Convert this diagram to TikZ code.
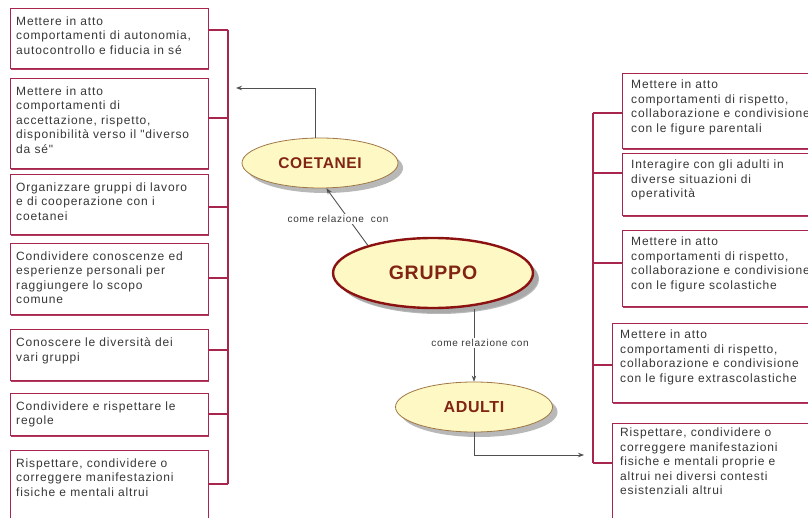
\documentclass[tikz,border=0pt]{standalone}
\usepackage{fontspec}
\setmainfont{Liberation Sans}
\newfontfamily\panelfont[LetterSpace=7]{Liberation Sans}
\newfontfamily\ovalfont[LetterSpace=4]{Liberation Sans}
\usetikzlibrary{shapes.geometric,shadows,arrows.meta}

\definecolor{boxred}{RGB}{168,38,78}
\definecolor{txtgray}{RGB}{55,55,55}
\definecolor{ovalfill}{RGB}{253,248,196}
\definecolor{ovaledge}{RGB}{160,120,70}
\definecolor{ovaltext}{RGB}{130,36,20}
\definecolor{gruppoedge}{RGB}{140,18,18}
\definecolor{conncol}{RGB}{80,80,80}

\tikzset{
  panel/.style={draw=boxred, line width=1.1pt, fill=white, anchor=north west,
    inner sep=0pt, minimum width=198pt,
    drop shadow={shadow xshift=0.5pt, shadow yshift=-1.3pt, fill=boxred, opacity=0.9}},
  rpanel/.style={panel, minimum width=220pt},
  paneltext/.style={anchor=north west, inner sep=0pt, align=left, text=txtgray,
    font=\panelfont\fontsize{12}{14.5}\selectfont},
  oval/.style={ellipse, draw=ovaledge, line width=0.8pt, fill=ovalfill, inner sep=0pt,
    text=ovaltext,
    drop shadow={shadow xshift=5pt, shadow yshift=-5pt, fill=black!35, opacity=0.8}},
  bus/.style={draw=boxred, line width=1.8pt},
  conn/.style={draw=conncol, line width=0.9pt},
  arr/.style={conn, -{Stealth[length=6pt,width=4.5pt]}},
  rel/.style={fill=white, inner sep=1.5pt, text=txtgray, font=\panelfont\fontsize{10}{11}\selectfont}
}

\begin{document}
\begin{tikzpicture}[x=1pt, y=-1pt]
\useasboundingbox (0,0) rectangle (808,518);

% left column of panels
\node[panel, minimum height=60pt] (L1) at (10,8) {};
\node[panel, minimum height=90pt] (L2) at (10,78) {};
\node[panel, minimum height=60pt] (L3) at (10,174) {};
\node[panel, minimum height=71pt] (L4) at (10,243) {};
\node[panel, minimum height=51pt] (L5) at (10,329) {};
\node[panel, minimum height=42pt] (L6) at (10,393) {};
\node[panel, minimum height=90pt] (L7) at (10,450) {};

\node[paneltext] (tL1) at ([xshift=6pt,yshift=-8.5pt]L1.north west)
  {Mettere in atto\\comportamenti di autonomia,\\autocontrollo e fiducia in sé};
\node[paneltext] (tL2) at ([xshift=6pt,yshift=-8.5pt]L2.north west)
  {Mettere in atto\\comportamenti di\\accettazione, rispetto,\\disponibilità verso il "diverso\\da sé"};
\node[paneltext] (tL3) at ([xshift=6pt,yshift=-8.5pt]L3.north west)
  {Organizzare gruppi di lavoro\\e di cooperazione con i\\coetanei};
\node[paneltext] (tL4) at ([xshift=6pt,yshift=-8.5pt]L4.north west)
  {Condividere conoscenze ed\\esperienze personali per\\raggiungere lo scopo\\comune};
\node[paneltext] (tL5) at ([xshift=6pt,yshift=-8.5pt]L5.north west)
  {Conoscere le diversità dei\\vari gruppi};
\node[paneltext] (tL6) at ([xshift=6pt,yshift=-8.5pt]L6.north west)
  {Condividere e rispettare le\\regole};
\node[paneltext] (tL7) at ([xshift=6pt,yshift=-8.5pt]L7.north west)
  {Rispettare, condividere o\\correggere manifestazioni\\fisiche e mentali altrui};

% right column of panels
\node[rpanel, minimum height=75pt] (R1) at (622,73) {};
\node[rpanel, minimum height=62pt] (R2) at (622,153) {};
\node[rpanel, minimum height=76pt] (R3) at (622,230) {};
\node[rpanel, minimum height=79pt, minimum width=230pt] (R4) at (612,323) {};
\node[rpanel, minimum height=110pt, minimum width=230pt] (R5) at (612,423) {};

\node[paneltext] (tR1) at ([xshift=9pt,yshift=-7pt]R1.north west)
  {Mettere in atto\\comportamenti di rispetto,\\collaborazione e condivisione\\con le figure parentali};
\node[paneltext] (tR2) at ([xshift=9pt,yshift=-7pt]R2.north west)
  {Interagire con gli adulti in\\diverse situazioni di\\operatività};
\node[paneltext] (tR3) at ([xshift=9pt,yshift=-7pt]R3.north west)
  {Mettere in atto\\comportamenti di rispetto,\\collaborazione e condivisione\\con le figure scolastiche};
\node[paneltext] (tR4) at ([xshift=8pt,yshift=-7pt]R4.north west)
  {Mettere in atto\\comportamenti di rispetto,\\collaborazione e condivisione\\con le figure extrascolastiche};
\node[paneltext] (tR5) at ([xshift=8pt,yshift=-5pt]R5.north west)
  {Rispettare, condividere o\\correggere manifestazioni\\fisiche e mentali proprie e\\altrui nei diversi contesti\\esistenziali altrui};

% left bracket bus
\coordinate (lbtop) at (228,30);
\coordinate (lbbot) at (228,484);
\draw[bus] (lbtop) -- (lbbot);
\draw[bus] (L1.east |- 0,30) -- (228,30);
\draw[bus] (L2.east |- 0,118) -- (228,118);
\draw[bus] (L3.east |- 0,207) -- (228,207);
\draw[bus] (L4.east |- 0,278) -- (228,278);
\draw[bus] (L5.east |- 0,350) -- (228,350);
\draw[bus] (L6.east |- 0,414) -- (228,414);
\draw[bus] (L7.east |- 0,484) -- (228,484);

% right bracket bus
\coordinate (rbtop) at (593,113);
\coordinate (rbbot) at (593,463);
\draw[bus] (rbtop) -- (rbbot);
\draw[bus] (593,113) -- (R1.west |- 0,113);
\draw[bus] (593,173) -- (R2.west |- 0,173);
\draw[bus] (593,263) -- (R3.west |- 0,263);
\draw[bus] (593,365) -- (R4.west |- 0,365);
\draw[bus] (593,463) -- (R5.west |- 0,463);

% concept ovals
\node[oval, minimum width=156pt, minimum height=50pt, font=\ovalfont\bfseries\fontsize{15.5}{16}\selectfont] (C) at (320,163) {COETANEI};
\node[oval, draw=gruppoedge, line width=2.4pt, minimum width=200pt, minimum height=70pt,
  font=\ovalfont\bfseries\fontsize{19.5}{20}\selectfont,
  drop shadow={shadow xshift=6pt, shadow yshift=-6pt, fill=black!35, opacity=0.8}] (G) at (433,273) {GRUPPO};
\node[oval, minimum width=157pt, minimum height=50pt, font=\ovalfont\bfseries\fontsize{16}{16}\selectfont] (A) at (474,407) {ADULTI};

% connectors
\coordinate (toL) at (236,88);
\coordinate (toR) at (584,455);
\draw[arr] ([xshift=-5pt]C.north) |- (toL);
\draw[arr] (G.157) -- (C.-76);
\node[rel] (rel1) at (338,219) {come relazione\ \ con};
\draw[arr] (G.south -| A.north) -- (A.north);
\node[rel] (rel2) at (480,343) {come relazione con};
\draw[arr] (A.south) |- (toR);
\end{tikzpicture}
\end{document}
